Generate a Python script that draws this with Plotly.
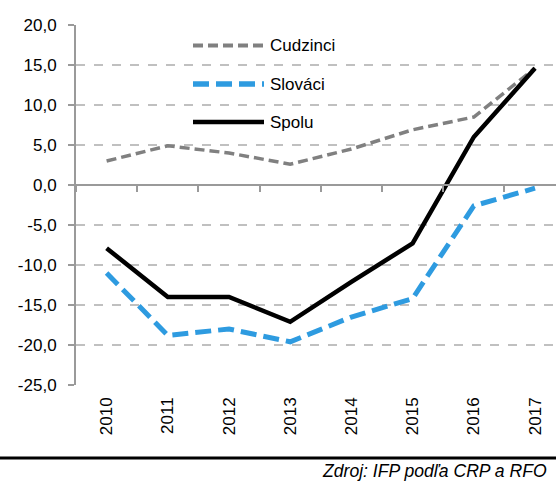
import plotly.graph_objects as go

years = [2010, 2011, 2012, 2013, 2014, 2015, 2016, 2017]
year_labels = [str(y) for y in years]
cudzinci = [3.0, 4.9, 4.0, 2.6, 4.5, 6.9, 8.5, 14.6]
slovaci = [-11.0, -18.8, -18.0, -19.6, -16.5, -14.2, -2.6, -0.4]
spolu = [-7.9, -14.0, -14.0, -17.1, -12.1, -7.3, 6.0, 14.6]
series_names = ["Cudzinci", "Slováci", "Spolu"]
y_ticks = [20, 15, 10, 5, 0, -5, -10, -15, -20, -25]
y_tick_labels = [f"{v:.1f}".replace(".", ",") for v in y_ticks]
source_text = "Zdroj: IFP podľa CRP a RFO"

FONT = "Liberation Sans, Arial, sans-serif"
GRAY = "#808080"
BLUE = "#2E9BE0"
AXIS = "#9a9a9a"
GRID = "#c0c0c0"

W, H = 556, 484
ML, MR, MT, MB = 76, 0, 25, 99
plot_w = W - ML - MR
plot_h = H - MT - MB
px_per_cat = 61.2
x_range = [years[0] - 0.5, years[0] - 0.5 + plot_w / px_per_cat]
y_range = [-25, 20]

styles = [
    dict(color=GRAY, width=3.5, dash="10px,5px"),
    dict(color=BLUE, width=5, dash="16px,7px"),
    dict(color="#000000", width=4.5, dash="solid"),
]
data = [cudzinci, slovaci, spolu]

fig = go.Figure()
# invisible helper trace so the zero-line category axis (x2) is rendered
fig.add_trace(go.Scatter(x=years, y=spolu, xaxis="x2", yaxis="y", mode="lines",
                         line=dict(width=0, color="rgba(0,0,0,0)"), hoverinfo="skip",
                         showlegend=False))
for name, vals, st in zip(series_names, data, styles):
    fig.add_trace(go.Scatter(x=years, y=vals, mode="lines", name=name,
                             line=dict(color=st["color"], width=st["width"], dash=st["dash"]),
                             showlegend=False))

# manual legend
def px_to_paper_x(px):
    return (px - ML) / plot_w

def px_to_paper_y(py):
    return (H - MB - py) / plot_h

leg_rows = [45.5, 84, 122]
shapes = []
annotations = []
for name, st, ry in zip(series_names, styles, leg_rows):
    shapes.append(dict(type="line", xref="paper", yref="paper",
                       x0=px_to_paper_x(193), x1=px_to_paper_x(264),
                       y0=px_to_paper_y(ry), y1=px_to_paper_y(ry),
                       line=dict(color=st["color"], width=st["width"] + (0.5 if st["dash"] != "solid" else 0),
                                 dash=st["dash"])))
    annotations.append(dict(text=name, xref="paper", yref="paper",
                            x=px_to_paper_x(268), y=px_to_paper_y(ry),
                            xanchor="left", yanchor="middle", showarrow=False,
                            font=dict(family=FONT, size=17, color="#000000")))

# bottom rule
shapes.append(dict(type="line", xref="paper", yref="paper",
                   x0=px_to_paper_x(0), x1=px_to_paper_x(W),
                   y0=px_to_paper_y(458), y1=px_to_paper_y(458),
                   line=dict(color="#000000", width=3)))
annotations.append(dict(text="<i>" + source_text + "</i>", xref="paper", yref="paper",
                        x=px_to_paper_x(549), y=px_to_paper_y(471),
                        xanchor="right", yanchor="middle", showarrow=False,
                        font=dict(family=FONT, size=17.6, color="#000000")))

zero_pos = (0 - y_range[0]) / (y_range[1] - y_range[0])

fig.update_layout(
    width=W, height=H,
    margin=dict(l=ML, r=MR, t=MT, b=MB, pad=0),
    plot_bgcolor="white", paper_bgcolor="white",
    font=dict(family=FONT, size=17, color="#000000"),
    showlegend=False,
    shapes=shapes,
    annotations=annotations,
    xaxis=dict(type="linear", range=x_range, tickmode="array", tickvals=years,
               ticktext=year_labels, tickangle=-90, showgrid=False, zeroline=False,
               showline=False, ticks="", ticklabelstandoff=8,
               tickfont=dict(family=FONT, size=17)),
    xaxis2=dict(type="linear", range=x_range, overlaying="x", anchor="free",
                position=zero_pos, side="bottom", showgrid=False, zeroline=False,
                showline=True, linecolor=AXIS, linewidth=2,
                ticks="outside", ticklen=6, tickwidth=2, tickcolor=AXIS,
                tickmode="array", tickvals=[y - 0.5 for y in years] + [years[-1] + 0.5],
                showticklabels=False),
    yaxis=dict(range=y_range, tickmode="array", tickvals=y_ticks, ticktext=y_tick_labels,
               showgrid=True, gridcolor=GRID, griddash="dash", gridwidth=1.5,
               zeroline=False, showline=True, linecolor=AXIS, linewidth=2,
               ticks="outside", ticklen=6, tickwidth=2, tickcolor=AXIS,
               ticklabelstandoff=8,
               tickfont=dict(family=FONT, size=17)),
)

fig.write_html("out.html", config={"displayModeBar": False})

# remove the browser's default body margin so the figure sits at the page origin
with open("out.html", "r", encoding="utf-8") as f:
    html = f.read()
html = html.replace("<body>", '<body style="margin:0;padding:0;">', 1)
html = html.replace("<head>", '<head><style>html,body{margin:0;padding:0;}</style>', 1)
with open("out.html", "w", encoding="utf-8") as f:
    f.write(html)
